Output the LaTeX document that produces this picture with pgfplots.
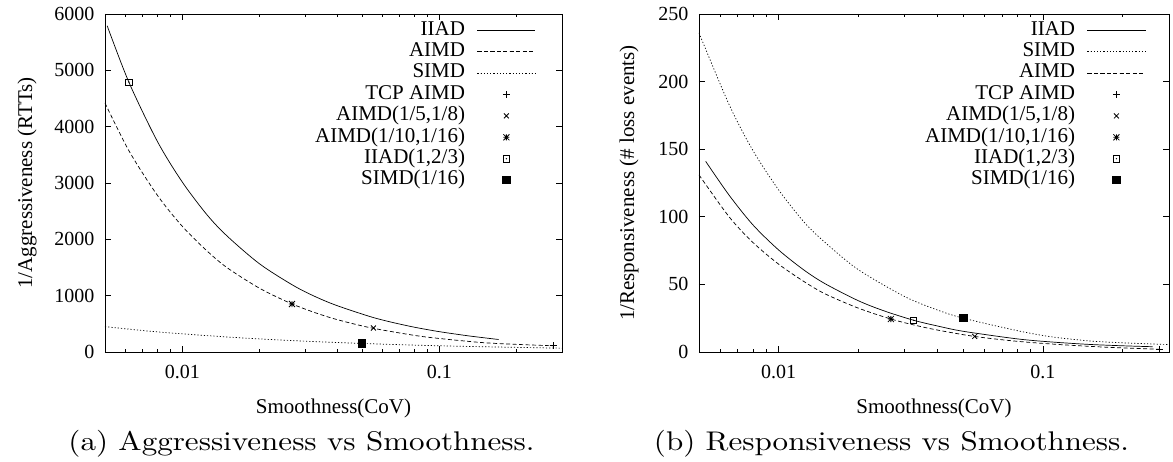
\documentclass[border=0pt]{standalone}
\usepackage{fontspec}
\usepackage{graphicx}
\newfontfamily\tfont{Liberation Serif}
\newfontfamily\capfont{lmroman10-regular.otf}
\usepackage{pgfplots}
\pgfplotsset{compat=1.18}
\newcommand{\lgfont}{\tfont\fontsize{21bp}{24bp}\selectfont}
\newcommand{\tkfont}{\tfont\fontsize{20bp}{23bp}\selectfont}
\pgfdeclareplotmark{gpstar}{%
  \pgfpathmoveto{\pgfqpoint{-\pgfplotmarksize}{0pt}}\pgfpathlineto{\pgfqpoint{\pgfplotmarksize}{0pt}}%
  \pgfpathmoveto{\pgfqpoint{0pt}{-\pgfplotmarksize}}\pgfpathlineto{\pgfqpoint{0pt}{\pgfplotmarksize}}%
  \pgfpathmoveto{\pgfqpoint{-\pgfplotmarksize}{-\pgfplotmarksize}}\pgfpathlineto{\pgfqpoint{\pgfplotmarksize}{\pgfplotmarksize}}%
  \pgfpathmoveto{\pgfqpoint{-\pgfplotmarksize}{\pgfplotmarksize}}\pgfpathlineto{\pgfqpoint{\pgfplotmarksize}{-\pgfplotmarksize}}%
  \pgfusepathqstroke}
\pgfdeclareplotmark{gpsquare}{%
  \pgfpathrectangle{\pgfqpoint{-\pgfplotmarksize}{-\pgfplotmarksize}}{\pgfqpoint{2\pgfplotmarksize}{2\pgfplotmarksize}}\pgfusepathqstroke
  \pgfpathcircle{\pgfpointorigin}{0.7pt}\pgfusepathqfill}
\tikzset{
  dashedline/.style={dash pattern=on 4bp off 2.5bp},
  dottedline/.style={dash pattern=on 1.2bp off 2bp},
  mk/.style={only marks, mark size=3.5bp, mark options={solid, line width=0.8bp}},
}
\pgfplotsset{every axis/.append style={
    scale only axis, height=338bp,
    xmin=0.005, xmax=0.3, ymin=0,
    xtick={0.01,0.1}, xticklabels={0.01,0.1},
    minor xtick={0.005,0.006,0.007,0.008,0.009,0.02,0.03,0.04,0.05,0.06,0.07,0.08,0.09,0.2,0.3},
    tick align=inside, major tick length=6bp, minor tick length=3bp,
    tick style={black, line width=0.6bp},
    axis line style={line width=0.8bp},
    ticklabel style={font=\tkfont},
    xticklabel style={yshift=-10bp},
    yticklabel style={xshift=-7bp},
    /pgf/number format/assume math mode=true,
    /pgf/number format/1000 sep={},
    scaled y ticks=false,
    label style={font=\lgfont},
    xlabel={Smoothness(CoV)},
    xlabel style={at={(axis description cs:0.5,-0.1805)}, anchor=base},
    legend cell align=right, legend plot pos=right,
    legend style={draw=none, fill=none, font=\lgfont, anchor=north east,
      inner sep=0pt, column sep=11bp, row sep=0pt,
      nodes={inner sep=1bp, text height=14.5bp, text depth=4.9bp}},
    every axis plot/.append style={black, line width=0.7bp},
}}
\pgfplotsset{legend image code/.code={\draw[mark repeat=2,mark phase=2,#1] plot coordinates {(0bp,0bp) (29bp,0bp) (58bp,0bp)};}}
\begin{document}
\begin{tikzpicture}
\path[use as bounding box] (0,0) rectangle (1173bp,462bp);
% ---------------- left panel ----------------
\begin{semilogxaxis}[at={(105bp,110bp)}, anchor=south west, width=457bp,
  ymax=6000, ytick={0,1000,2000,3000,4000,5000,6000},
  ylabel={1/Aggressiveness (RTTs)},
  ylabel style={at={(axis description cs:-0.1707,0.5)}, anchor=center},
  legend style={at={(0.943,0.984)}}]
\addplot[smooth] coordinates {(0.0051,5790) (0.0062,4785) (0.008,3736) (0.01,3015) (0.0125,2430) (0.015,2050) (0.02,1563) (0.027,1182) (0.033,980) (0.04,823) (0.054,626) (0.065,530) (0.08,440) (0.1,361) (0.13,286) (0.17,222)};
\addlegendentry{IIAD}
\addplot[smooth, dashedline] coordinates {(0.005,4420) (0.0062,3570) (0.008,2780) (0.01,2230) (0.0125,1790) (0.015,1490) (0.02,1130) (0.0265,860) (0.033,695) (0.04,575) (0.054,430) (0.08,295) (0.1,240) (0.146,168) (0.2,135) (0.277,110)};
\addlegendentry{AIMD}
\addplot[smooth, dottedline] coordinates {(0.005,450) (0.0075,368) (0.01,322) (0.015,266) (0.02,232) (0.03,192) (0.05,152) (0.08,122) (0.12,102) (0.2,82) (0.3,68)};
\addlegendentry{SIMD}
\addplot[mk, mark=+] coordinates {(0.277,112)};
\addlegendentry{TCP AIMD}
\addplot[mk, mark=x] coordinates {(0.0554,426)};
\addlegendentry{AIMD(1/5,1/8)}
\addplot[mk, mark=gpstar, mark size=3bp] coordinates {(0.0267,852)};
\addlegendentry{AIMD(1/10,1/16)}
\addplot[mk, mark=gpsquare, mark size=3.2bp] coordinates {(0.0062,4790)};
\addlegendentry{IIAD(1,2/3)}
\addplot[mk, mark=square*, mark size=3.6bp] coordinates {(0.0499,154)};
\addlegendentry{SIMD(1/16)}
\end{semilogxaxis}
% ---------------- right panel ----------------
\begin{semilogxaxis}[at={(699bp,110bp)}, anchor=south west, width=470bp,
  ymax=250, ytick={0,50,100,150,200,250},
  ylabel={1/Responsiveness (\# loss events)},
  ylabel style={at={(axis description cs:-0.149,0.5)}, anchor=center},
  legend style={at={(0.951,0.984)}}]
\addplot[smooth] coordinates {(0.0053,141) (0.0065,116) (0.008,94) (0.01,75.5) (0.0125,60.5) (0.015,50.5) (0.02,38) (0.025,30.5) (0.0324,23.5) (0.04,19.2) (0.05,15.3) (0.08,9.7) (0.108,7.4) (0.15,5.6) (0.2,4.6) (0.26,3.9)};
\addlegendentry{IIAD}
\addplot[smooth, dottedline] coordinates {(0.005,236) (0.0065,183) (0.008,149) (0.01,120) (0.0125,96) (0.015,81) (0.02,61) (0.03,41) (0.04,31) (0.05,25) (0.08,15.8) (0.108,11.2) (0.15,8.2) (0.2,6.8) (0.3,5.5)};
\addlegendentry{SIMD}
\addplot[smooth, dashedline] coordinates {(0.005,131) (0.0065,100) (0.008,81) (0.01,65) (0.0125,52) (0.015,43) (0.02,32.5) (0.0266,24.4) (0.033,19.7) (0.04,16.2) (0.0552,11.5) (0.08,7.9) (0.12,5.3) (0.18,3.4) (0.277,2.0)};
\addlegendentry{AIMD}
\addplot[mk, mark=+] coordinates {(0.277,2.0)};
\addlegendentry{TCP AIMD}
\addplot[mk, mark=x] coordinates {(0.0552,11.5)};
\addlegendentry{AIMD(1/5,1/8)}
\addplot[mk, mark=gpstar, mark size=3bp] coordinates {(0.0266,24.4)};
\addlegendentry{AIMD(1/10,1/16)}
\addplot[mk, mark=gpsquare, mark size=3.2bp] coordinates {(0.0324,23.5)};
\addlegendentry{IIAD(1,2/3)}
\addplot[mk, mark=square*, mark size=3.6bp] coordinates {(0.05,25)};
\addlegendentry{SIMD(1/16)}
\end{semilogxaxis}
% captions
\node[anchor=base, inner sep=0pt, font=\capfont\fontsize{27bp}{30bp}\selectfont] at (301.5bp,12bp) {\scalebox{1.15}[1]{(a) Aggressiveness vs Smoothness.}};
\node[anchor=base, inner sep=0pt, font=\capfont\fontsize{27bp}{30bp}\selectfont] at (891.5bp,12bp) {\scalebox{1.15}[1]{(b) Responsiveness vs Smoothness.}};
\end{tikzpicture}
\end{document}
